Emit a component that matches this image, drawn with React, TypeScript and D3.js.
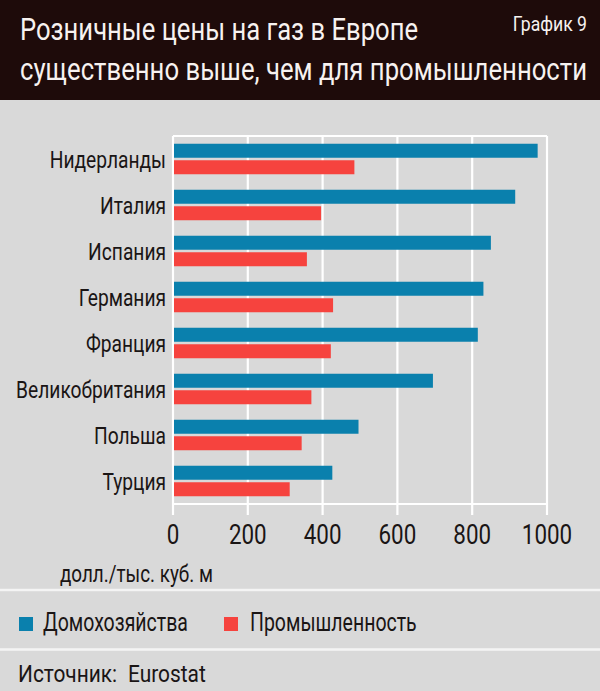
import React from "react";
import * as d3 from "d3";

const categories = ["Нидерланды", "Италия", "Испания", "Германия", "Франция", "Великобритания", "Польша", "Турция"];
const households = [975, 915, 850, 830, 815, 695, 496, 426];
const industry = [485, 396, 358, 428, 422, 370, 344, 312];
const seriesNames = ["Домохозяйства", "Промышленность"];
const xTicks = [0, 200, 400, 600, 800, 1000];

const W = 600;
const H = 691;
const FONT = "Roboto, 'Noto Sans', sans-serif";
const BG = "#d9d9d9";
const HEAD = "#1e0b0a";
const BLUE = "#0a80ad";
const RED = "#f6433e";
const TXT = "#1a1515";
const K = 0.8;

type TP = {
  x: number;
  y: number;
  size: number;
  fill?: string;
  anchor?: "start" | "middle" | "end";
  k?: number;
  len?: number;
  children: React.ReactNode;
};

function T({ x, y, size, fill = TXT, anchor = "start", k = K, len, children }: TP) {
  return (
    <text
      transform={`translate(${x},${y}) scale(${k},1)`}
      fontSize={size}
      fill={fill}
      textAnchor={anchor}
      {...(len ? { textLength: len / k, lengthAdjust: "spacingAndGlyphs" } : {})}
    >
      {children}
    </text>
  );
}

export default function App() {
  React.useEffect(() => {
    document.body.style.margin = "0";
  }, []);

  const plot = { left: 173, right: 547, top: 136, bottom: 504 };
  const x = d3.scaleLinear().domain([0, 1000]).range([plot.left, plot.right]);
  const y = d3
    .scaleBand<string>()
    .domain(categories)
    .range([plot.top, plot.bottom])
    .paddingInner(0.337)
    .paddingOuter(0.1685);
  const sub = d3
    .scaleBand<string>()
    .domain(seriesNames)
    .range([0, y.bandwidth()])
    .paddingInner(0.152);
  const color = d3.scaleOrdinal<string, string>().domain(seriesNames).range([BLUE, RED]);
  const values = [households, industry];

  return (
    <svg width={W} height={H} style={{ position: "absolute", left: 0, top: 0, display: "block" }} fontFamily={FONT}>
      <rect x={0} y={0} width={W} height={H} fill={BG} />
      <rect x={0} y={0} width={W} height={100} fill={HEAD} />
      <T x={20} y={40} size={32} fill="#f7f2f0" len={398}>
        Розничные цены на газ в Европе
      </T>
      <T x={20} y={80} size={32} fill="#f7f2f0" len={567}>
        существенно выше, чем для промышленности
      </T>
      <T x={587} y={31} size={21} fill="#f7f2f0" anchor="end" k={0.84}>
        График 9
      </T>

      {xTicks.map((t) => (
        <line key={"g" + t} x1={x(t)} x2={x(t)} y1={plot.top} y2={plot.bottom + 11} stroke="#ffffff" strokeWidth={2.2} />
      ))}
      <line x1={plot.left} x2={plot.right} y1={plot.top} y2={plot.top} stroke="#ffffff" strokeWidth={2.2} />
      <line x1={plot.left} x2={plot.right} y1={plot.bottom} y2={plot.bottom} stroke="#ffffff" strokeWidth={2.2} />

      {categories.map((c, i) => (
        <g key={c}>
          {seriesNames.map((s, si) => (
            <rect
              key={s}
              x={x(0) + 1}
              y={(y(c) as number) + (sub(s) as number)}
              width={x(values[si][i]) - x(0) - 1}
              height={sub.bandwidth()}
              fill={color(s)}
            />
          ))}
          <T x={166} y={(y(c) as number) + y.bandwidth() / 2 + 8.5} size={24} anchor="end">
            {c}
          </T>
        </g>
      ))}

      {xTicks.map((t) => (
        <T key={"t" + t} x={x(t)} y={544} size={28} anchor="middle">
          {t}
        </T>
      ))}
      <T x={60} y={582} size={23} k={0.82}>
        долл./тыс. куб. м
      </T>

      <line x1={0} x2={W} y1={590} y2={590} stroke="#f4f4f4" strokeWidth={2.5} />
      <line x1={0} x2={W} y1={649.5} y2={649.5} stroke="#f4f4f4" strokeWidth={2.5} />

      <rect x={19} y={617} width={14} height={14} fill={BLUE} />
      <T x={43} y={631} size={26} k={0.75}>
        {seriesNames[0]}
      </T>
      <rect x={224} y={617} width={14} height={14} fill={RED} />
      <T x={250} y={631} size={26} k={0.75}>
        {seriesNames[1]}
      </T>

      <T x={18} y={682} size={24} k={0.87}>
        Источник:
      </T>
      <T x={128} y={682} size={24} k={0.87}>
        Eurostat
      </T>
    </svg>
  );
}
